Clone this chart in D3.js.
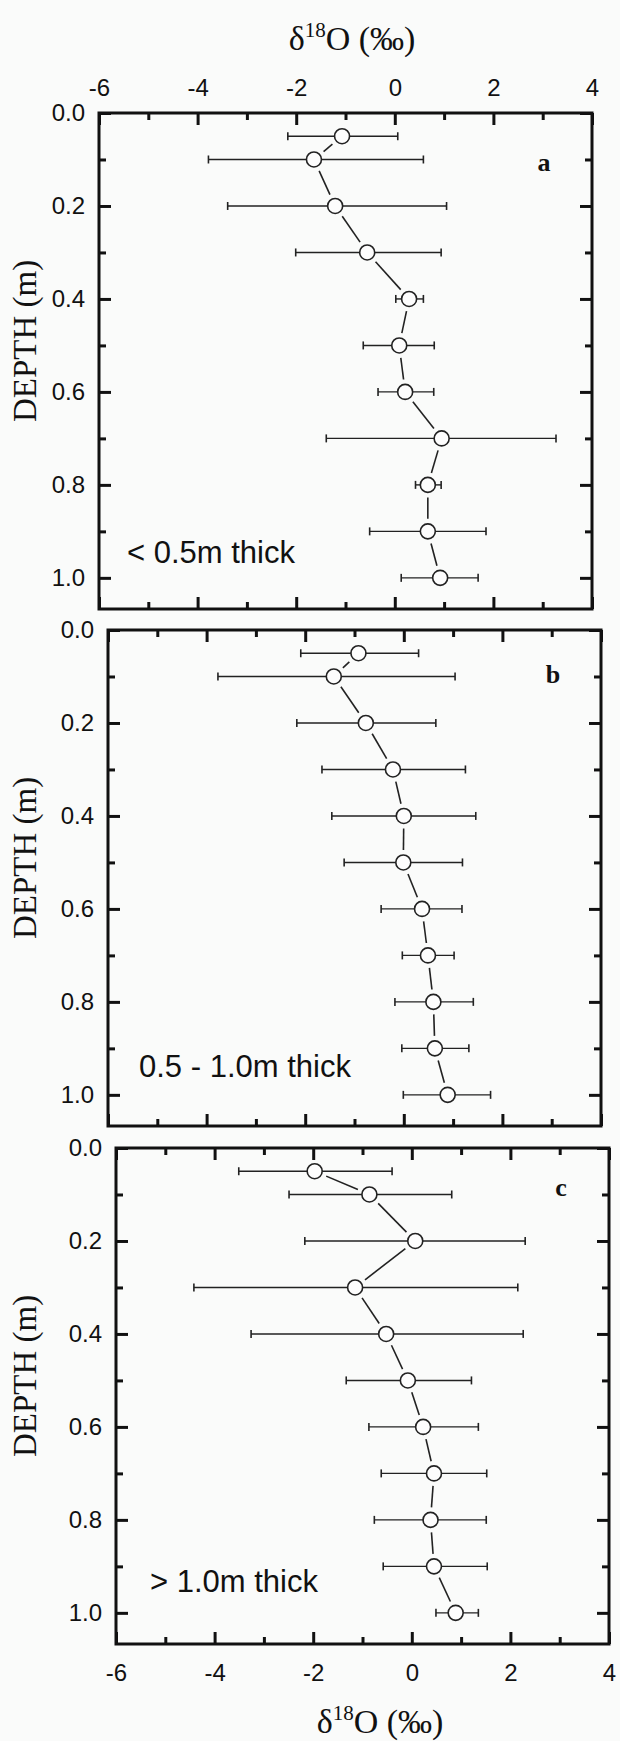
<!DOCTYPE html>
<html>
<head>
<meta charset="utf-8">
<script src="https://cdn.jsdelivr.net/npm/d3@7"></script>
<style>
body { margin: 0; background: #fafbfa; }
svg { display: block; }
.tick text { font-family: "Liberation Sans", Arial, sans-serif; font-size: 24px; fill: #111; }
.tick line { stroke: #111; stroke-width: 3; }
</style>
</head>
<body>
<script>
// depth of each sample (m), same for the three profiles
var depths = [0.05, 0.1, 0.2, 0.3, 0.4, 0.5, 0.6, 0.7, 0.8, 0.9, 1.0];

// a : < 0.5m thick
var meanA = [-1.07, -1.64, -1.21, -0.56, 0.29, 0.09, 0.21, 0.95, 0.67, 0.67, 0.92];
var lowA  = [-2.17, -3.78, -3.39, -2.01, 0.02, -0.64, -0.34, -1.39, 0.42, -0.51, 0.13];
var highA = [0.06, 0.58, 1.05, 0.94, 0.58, 0.80, 0.79, 3.27, 0.94, 1.85, 1.69];

// b : 0.5 - 1.0m thick
var meanB = [-0.92, -1.42, -0.77, -0.22, 0.00, -0.01, 0.37, 0.49, 0.60, 0.63, 0.89];
var lowB  = [-2.09, -3.77, -2.17, -1.66, -1.46, -1.21, -0.46, -0.03, -0.18, -0.04, -0.01];
var highB = [0.30, 1.04, 0.65, 1.25, 1.46, 1.19, 1.18, 1.02, 1.41, 1.32, 1.76];

// c : > 1.0m thick
var meanC = [-1.97, -0.86, 0.07, -1.15, -0.52, -0.08, 0.23, 0.45, 0.38, 0.45, 0.89];
var lowC  = [-3.51, -2.49, -2.17, -4.42, -3.26, -1.33, -0.87, -0.62, -0.76, -0.58, 0.49];
var highC = [-0.40, 0.81, 2.30, 2.15, 2.26, 1.21, 1.35, 1.52, 1.51, 1.53, 1.35];

// axis ticks
var xMajor = [-6, -4, -2, 0, 2, 4];
var xMinor = [-5, -3, -1, 1, 3];
var yMajor = [0, 0.2, 0.4, 0.6, 0.8, 1.0];
var yMinor = [0.1, 0.3, 0.5, 0.7, 0.9];

var panelLetters = ["a", "b", "c"];
var panelNotes = ["< 0.5m thick", "0.5 - 1.0m thick", "> 1.0m thick"];
var xTitle = "O (‰)";
var yTitle = "DEPTH (m)";

var W = 620, H = 1741;
var pw = 493, ph = 496;
// the scan is a little rotated, so each panel sits a bit further right
var layout = [
  {left: 99, top: 113},
  {left: 108, top: 630},
  {left: 116, top: 1148}
];

var x = d3.scaleLinear().domain([-6, 4]).range([0, pw]);
var y = d3.scaleLinear().domain([0, 1.067]).range([0, ph]);

var svg = d3.select("body").append("svg")
  .attr("width", W)
  .attr("height", H);

var series = [
  {mean: meanA, low: lowA, high: highA},
  {mean: meanB, low: lowB, high: highB},
  {mean: meanC, low: lowC, high: highC}
];

var r = 7.5, gap = 12.5;
var xFmt = function(d) { return String(d); }; // plain hyphen, as in the figure
var yFmt = d3.format(".1f");

series.forEach(function(s, k) {
  var g = svg.append("g")
    .attr("transform", "translate(" + layout[k].left + "," + layout[k].top + ")");

  // ticks (inward on all four sides)
  g.append("g").call(d3.axisLeft(y).tickValues(yMajor).tickSize(-12).tickPadding(14).tickFormat(yFmt));
  g.append("g").call(d3.axisLeft(y).tickValues(yMinor).tickSize(-7).tickFormat(""));
  g.append("g").attr("transform", "translate(" + pw + ",0)")
    .call(d3.axisRight(y).tickValues(yMajor).tickSize(-12).tickFormat(""));
  g.append("g").attr("transform", "translate(" + pw + ",0)")
    .call(d3.axisRight(y).tickValues(yMinor).tickSize(-7).tickFormat(""));

  var top = d3.axisTop(x).tickValues(xMajor).tickSize(-12).tickPadding(17).tickFormat(k == 0 ? xFmt : "");
  g.append("g").call(top);
  g.append("g").call(d3.axisTop(x).tickValues(xMinor).tickSize(-7).tickFormat(""));

  var bottom = d3.axisBottom(x).tickValues(xMajor).tickSize(-12).tickPadding(20).tickFormat(k == 2 ? xFmt : "");
  g.append("g").attr("transform", "translate(0," + ph + ")").call(bottom);
  g.append("g").attr("transform", "translate(0," + ph + ")")
    .call(d3.axisBottom(x).tickValues(xMinor).tickSize(-7).tickFormat(""));

  g.selectAll(".domain").remove();

  // frame
  g.append("rect")
    .attr("width", pw)
    .attr("height", ph)
    .attr("fill", "none")
    .attr("stroke", "#111")
    .attr("stroke-width", 3);

  var pts = depths.map(function(d, i) {
    return {depth: d, v: s.mean[i], lo: s.low[i], hi: s.high[i]};
  });

  // connecting line, broken short of each marker
  for (var i = 0; i < pts.length - 1; i++) {
    var x1 = x(pts[i].v), y1 = y(pts[i].depth);
    var x2 = x(pts[i + 1].v), y2 = y(pts[i + 1].depth);
    var len = Math.sqrt((x2 - x1) * (x2 - x1) + (y2 - y1) * (y2 - y1));
    if (len <= 2 * gap) continue;
    var ux = (x2 - x1) / len, uy = (y2 - y1) / len;
    g.append("line")
      .attr("x1", x1 + ux * gap).attr("y1", y1 + uy * gap)
      .attr("x2", x2 - ux * gap).attr("y2", y2 - uy * gap)
      .attr("stroke", "#222")
      .attr("stroke-width", 1.6);
  }

  // error bars
  var bars = g.selectAll("g.bar").data(pts).enter().append("g").attr("class", "bar");
  bars.append("line")
    .attr("x1", function(d) { return x(d.lo); })
    .attr("x2", function(d) { return x(d.hi); })
    .attr("y1", function(d) { return y(d.depth); })
    .attr("y2", function(d) { return y(d.depth); })
    .attr("stroke", "#222").attr("stroke-width", 1.4);
  bars.append("line")
    .attr("x1", function(d) { return x(d.lo); })
    .attr("x2", function(d) { return x(d.lo); })
    .attr("y1", function(d) { return y(d.depth) - 4; })
    .attr("y2", function(d) { return y(d.depth) + 4; })
    .attr("stroke", "#222").attr("stroke-width", 1.6);
  bars.append("line")
    .attr("x1", function(d) { return x(d.hi); })
    .attr("x2", function(d) { return x(d.hi); })
    .attr("y1", function(d) { return y(d.depth) - 4; })
    .attr("y2", function(d) { return y(d.depth) + 4; })
    .attr("stroke", "#222").attr("stroke-width", 1.6);

  // markers
  g.selectAll("circle").data(pts).enter().append("circle")
    .attr("cx", function(d) { return x(d.v); })
    .attr("cy", function(d) { return y(d.depth); })
    .attr("r", r)
    .attr("fill", "#fdfdfd")
    .attr("stroke", "#222")
    .attr("stroke-width", 1.6);

  // panel letter and note
  g.append("text")
    .attr("x", pw - 48)
    .attr("y", 58 - k * 5)
    .attr("text-anchor", "middle")
    .style("font-family", "'Liberation Serif', 'Times New Roman', serif")
    .style("font-weight", "bold")
    .style("font-size", "26px")
    .attr("fill", "#111")
    .text(panelLetters[k]);

  g.append("text")
    .attr("x", 28 + k * 3)
    .attr("y", ph - 46 - k * 3)
    .style("font-family", "'Liberation Sans', Arial, sans-serif")
    .style("font-size", "31px")
    .attr("fill", "#111")
    .text(panelNotes[k]);

  // y title
  g.append("text")
    .attr("transform", "translate(" + (36 - layout[k].left) + "," + (ph / 2 - 20) + ") rotate(-90)")
    .attr("text-anchor", "middle")
    .style("font-family", "'Liberation Serif', 'Times New Roman', serif")
    .style("font-size", "33px")
    .attr("fill", "#111")
    .text(yTitle);
});

// x titles, top and bottom
function delta(t) {
  t.style("font-family", "'Liberation Serif', 'Times New Roman', serif")
    .style("font-size", "34px")
    .attr("fill", "#111")
    .attr("text-anchor", "middle");
  t.append("tspan").text("δ");
  t.append("tspan").attr("dy", -13).style("font-size", "21px").text("18");
  t.append("tspan").attr("dy", 13).text(xTitle);
}
svg.append("text").attr("x", 352).attr("y", 50).call(delta);
svg.append("text").attr("x", 380).attr("y", 1733).call(delta);
</script>
</body>
</html>
